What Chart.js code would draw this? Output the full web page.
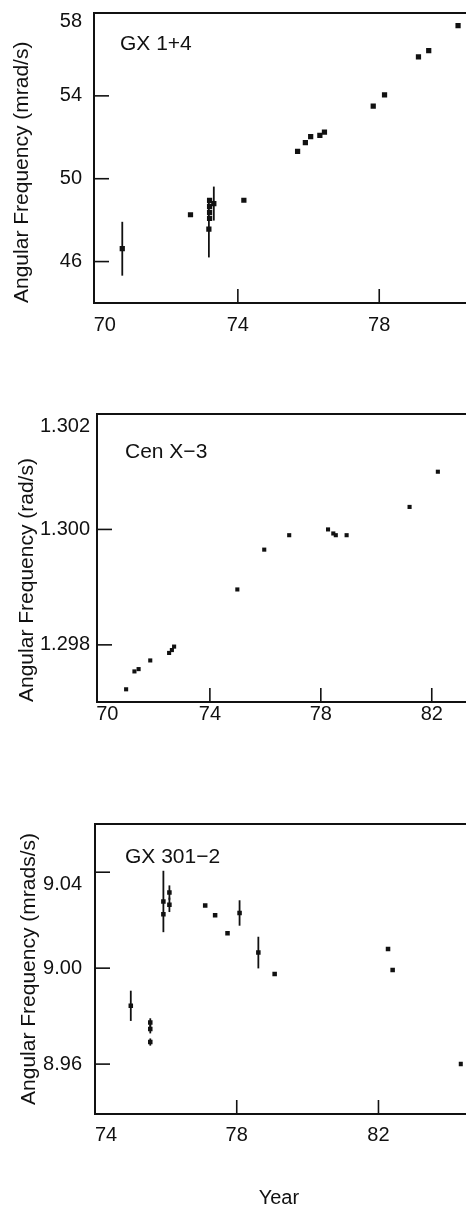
<!DOCTYPE html>
<html>
<head>
<meta charset="utf-8">
<script src="https://cdn.jsdelivr.net/npm/chart.js@4/dist/chart.umd.min.js"></script>
<style>
  html, body { margin: 0; padding: 0; background: #fff; width: 466px; height: 1207px; overflow: hidden; }
  canvas { position: absolute; left: 0; }
</style>
</head>
<body>
<canvas id="c1" width="466" height="345" style="top:0px"></canvas>
<canvas id="c2" width="466" height="360" style="top:380px"></canvas>
<canvas id="c3" width="466" height="417" style="top:790px"></canvas>
<script>
// ---------- Panel 1: GX 1+4 ----------
const years1 = [70.73, 72.66, 73.18, 73.20, 73.20, 73.20, 73.20, 73.32, 74.17, 75.69, 75.91, 76.06, 76.32, 76.45, 77.83, 78.15, 79.11, 79.40, 80.23];
const freq1  = [46.62, 48.26, 47.57, 48.95, 48.66, 48.37, 48.08, 48.80, 48.96, 51.32, 51.74, 52.03, 52.09, 52.25, 53.50, 54.05, 55.88, 56.18, 57.39];
const err1   = [1.30, 0, 1.37, 0, 0, 0, 0, 0.82, 0, 0, 0, 0, 0, 0, 0, 0, 0, 0, 0];
const yTicks1 = [46, 50, 54, 58];
const xTicks1 = [70, 74, 78];

// ---------- Panel 2: Cen X-3 ----------
const years2 = [70.98, 71.28, 71.43, 71.85, 72.53, 72.63, 72.71, 74.99, 75.96, 76.86, 78.26, 78.45, 78.54, 78.93, 81.20, 82.22];
const freq2  = [1.29723, 1.29754, 1.29758, 1.29773, 1.29786, 1.29791, 1.29797, 1.29896, 1.29965, 1.29990, 1.30000, 1.29993, 1.29990, 1.29990, 1.30039, 1.30100];
const err2   = [0, 0, 0, 0, 0, 0, 0, 0, 0, 0, 0, 0, 0, 0, 0, 0];
const yTicks2 = [1.298, 1.300, 1.302];
const xTicks2 = [70, 74, 78, 82];

// ---------- Panel 3: GX 301-2 ----------
const years3 = [75.01, 75.56, 75.56, 75.56, 75.93, 75.93, 76.10, 76.10, 77.11, 77.39, 77.74, 78.08, 78.61, 79.07, 82.27, 82.40, 84.33];
const freq3  = [8.9843, 8.9773, 8.9746, 8.9692, 9.0278, 9.0225, 9.0315, 9.0264, 9.0261, 9.0221, 9.0146, 9.0230, 9.0065, 8.9976, 9.0080, 8.9992, 8.9600];
const err3   = [0.0063, 0.0018, 0.0018, 0.0015, 0.0128, 0, 0.0030, 0.0030, 0, 0, 0, 0.0053, 0.0066, 0, 0, 0, 0];
const yTicks3 = [8.96, 9.00, 9.04];
const xTicks3 = [74, 78, 82];

const FONT = '"Liberation Sans", Arial, Helvetica, sans-serif';
const INK = '#111';
Chart.defaults.font.family = FONT;
Chart.defaults.color = INK;

const framePlugin = {
  id: 'frame',
  beforeDatasetsDraw(chart, args, opts) {
    const {ctx} = chart;
    const xs = chart.scales.x, ys = chart.scales.y;
    const pts = chart.data.datasets[0].data;
    ctx.save();
    ctx.strokeStyle = INK;
    ctx.lineWidth = 1.8;
    pts.forEach((p, i) => {
      const e = opts.errors[i];
      if (!e) return;
      const px = xs.getPixelForValue(p.x);
      ctx.beginPath();
      ctx.moveTo(px, ys.getPixelForValue(p.y - e));
      ctx.lineTo(px, ys.getPixelForValue(p.y + e));
      ctx.stroke();
    });
    ctx.restore();
  },
  afterDraw(chart, args, opts) {
    const {ctx, chartArea: a} = chart;
    const xs = chart.scales.x, ys = chart.scales.y;
    ctx.save();
    ctx.strokeStyle = INK;
    ctx.lineWidth = 2;
    ctx.beginPath();
    ctx.moveTo(a.right + 4, a.top);
    ctx.lineTo(a.left, a.top);
    ctx.lineTo(a.left, a.bottom);
    ctx.lineTo(a.right + 4, a.bottom);
    ctx.stroke();
    ctx.lineWidth = 1.6;
    ys.ticks.forEach(t => {
      if (t.value <= ys.min + 1e-9 || t.value >= ys.max - 1e-9) return;
      const py = ys.getPixelForValue(t.value);
      ctx.beginPath(); ctx.moveTo(a.left, py); ctx.lineTo(a.left + 15, py); ctx.stroke();
    });
    xs.ticks.forEach(t => {
      if (t.value <= xs.min + 0.2 || t.value >= xs.max) return;
      const px = xs.getPixelForValue(t.value);
      ctx.beginPath(); ctx.moveTo(px, a.bottom); ctx.lineTo(px, a.bottom - 14); ctx.stroke();
    });
    ctx.fillStyle = INK;
    ctx.font = '21px ' + FONT;
    ctx.textAlign = 'left';
    ctx.textBaseline = 'alphabetic';
    ctx.fillText(opts.label, a.left + opts.dx, a.top + opts.dy);
    ctx.restore();
  }
};

function makePanel(id, p) {
  const data = p.years.map((x, i) => ({x: x, y: p.freq[i]}));
  const yTop = p.yTicks[p.yTicks.length - 1];
  return new Chart(document.getElementById(id), {
    type: 'scatter',
    data: { datasets: [{
      data: data,
      pointStyle: 'rect',
      pointRadius: p.radius,
      pointHoverRadius: p.radius,
      backgroundColor: INK,
      borderColor: INK,
      borderWidth: 0
    }]},
    options: {
      responsive: false,
      animation: false,
      events: [],
      layout: { padding: { top: p.padTop, left: 0, right: 0, bottom: 0 } },
      plugins: {
        legend: { display: false },
        tooltip: { enabled: false },
        frame: { errors: p.errors, label: p.label, dx: p.dx, dy: p.dy }
      },
      scales: {
        x: {
          type: 'linear',
          min: p.xMin, max: p.xMax,
          afterBuildTicks: s => { s.ticks = p.xTicks.map(v => ({value: v})); },
          afterFit: s => { s.height = p.xHeight; s.paddingLeft = 0; s.paddingRight = 0; },
          grid: { display: false, drawTicks: false },
          border: { display: false },
          ticks: {
            autoSkip: false, maxRotation: 0, padding: p.xPad,
            font: { size: 20 },
            color: INK,
            callback: (v, i) => (i === 0 ? p.firstPad : '') + String(v)
          },
          title: p.xTitle ? {
            display: true, text: 'Year', color: INK,
            font: { size: 20, lineHeight: 0.9 }, padding: { top: 0, bottom: 0 }
          } : { display: false }
        },
        y: {
          type: 'linear',
          min: p.yMin, max: p.yMax,
          afterBuildTicks: s => { s.ticks = p.yTicks.map(v => ({value: v})); },
          afterFit: s => { s.width = p.yWidth; s.paddingTop = 0; s.paddingBottom = 0; },
          grid: { display: false, drawTicks: false },
          border: { display: false },
          ticks: {
            padding: p.yPad,
            font: { size: 20, lineHeight: p.tickLH },
            color: INK,
            callback: v => {
              const s = v.toFixed(p.dec);
              return Math.abs(v - yTop) < 1e-9 ? ['', s] : s;
            }
          },
          title: {
            display: true, text: p.yTitle, color: INK, align: p.yAlign,
            font: { size: 21, lineHeight: 1.2 }, padding: { top: p.yTitlePad, bottom: 0 }
          }
        }
      }
    },
    plugins: [framePlugin]
  });
}

makePanel('c1', {
  years: years1, freq: freq1, errors: err1, yTicks: yTicks1, xTicks: xTicks1,
  xMin: 69.93, xMax: 80.35, yMin: 44, yMax: 58, dec: 0,
  padTop: 13, xHeight: 42, yWidth: 94, xPad: 10, yPad: 12, tickLH: 0.8,
  yTitle: 'Angular Frequency (mrad/s)', yAlign: 'start', yTitlePad: 10,
  firstPad: '   ', radius: 3.7, label: 'GX 1+4', dx: 26, dy: 37, xTitle: false
});
makePanel('c2', {
  years: years2, freq: freq2, errors: err2, yTicks: yTicks2, xTicks: xTicks2,
  xMin: 69.93, xMax: 83.13, yMin: 1.29701, yMax: 1.302, dec: 3,
  padTop: 34, xHeight: 38, yWidth: 97, xPad: 0, yPad: 7, tickLH: 1.2,
  yTitle: 'Angular Frequency (rad/s)', yAlign: 'start', yTitlePad: 15,
  firstPad: '   ', radius: 2.9, label: 'Cen X\u22123', dx: 28, dy: 44, xTitle: false
});
makePanel('c3', {
  years: years3, freq: freq3, errors: err3, yTicks: yTicks3, xTicks: xTicks3,
  xMin: 74, xMax: 84.38, yMin: 8.9392, yMax: 9.0601, dec: 2,
  padTop: 34, xHeight: 93, yWidth: 95, xPad: 9, yPad: 13, tickLH: 1.2,
  yTitle: 'Angular Frequency (mrads/s)', yAlign: 'center', yTitlePad: 17,
  firstPad: '    ', radius: 3.2, label: 'GX 301\u22122', dx: 30, dy: 39, xTitle: true
});
</script>
</body>
</html>
